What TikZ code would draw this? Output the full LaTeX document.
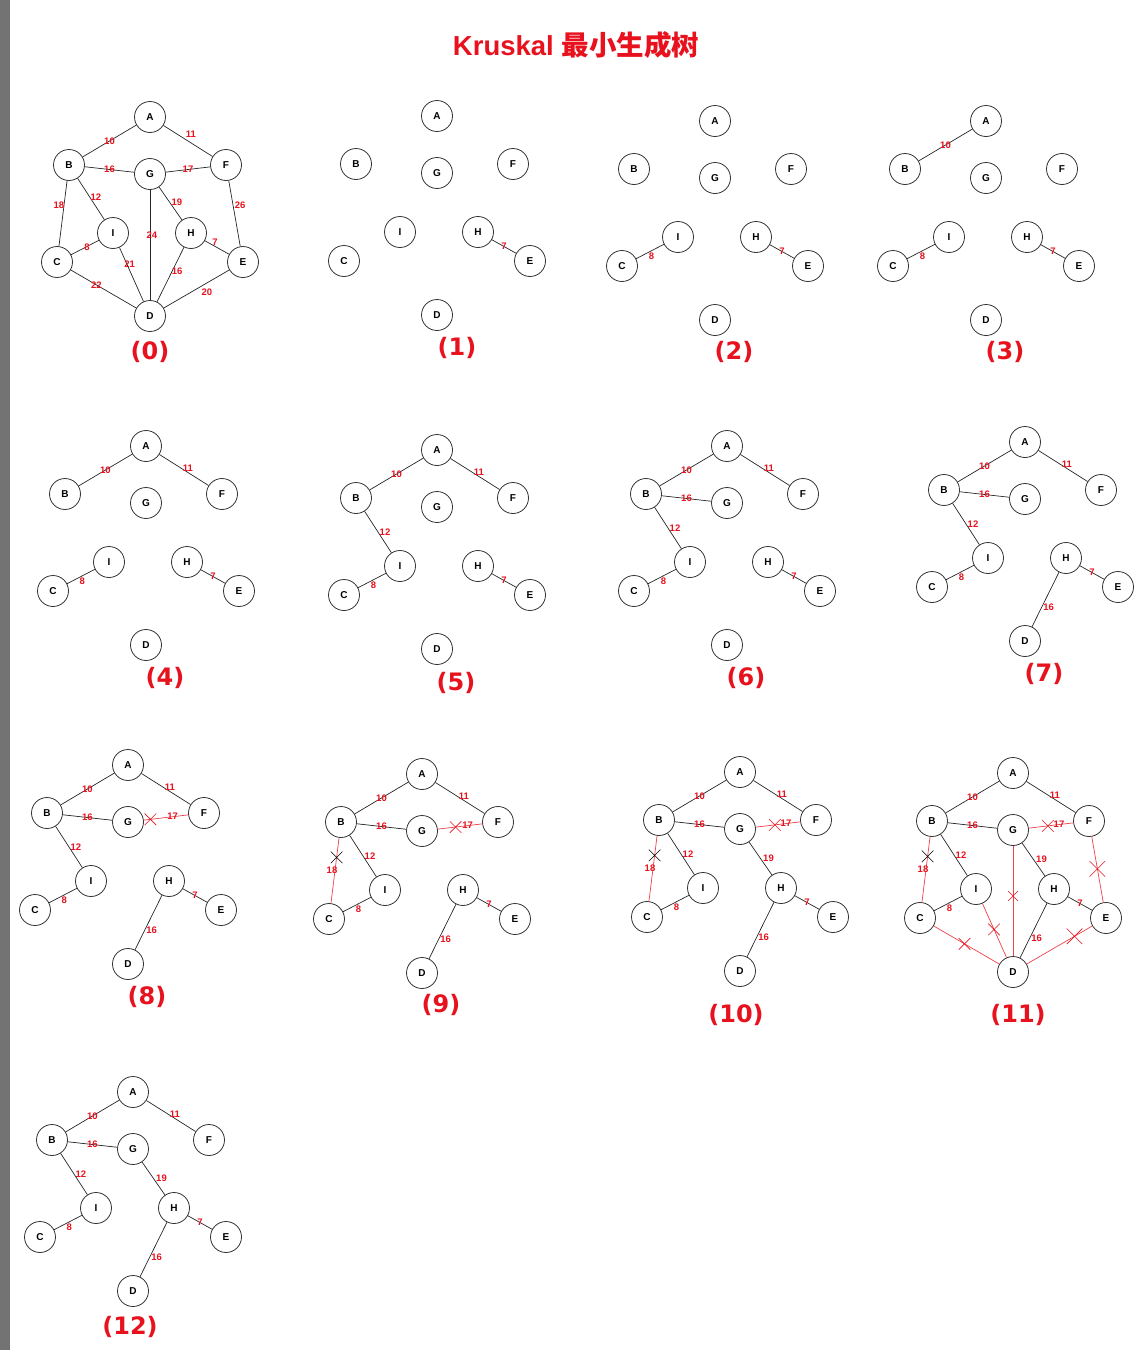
\documentclass[tikz,border=0pt]{standalone}
\usepackage{fontspec}
\setmainfont{Liberation Sans}
\newfontfamily\cjk{Noto Sans CJK SC}
\newfontfamily\chiffres{DejaVu Sans}
\usetikzlibrary{shapes.misc}

\definecolor{rouge}{RGB}{232,18,30}
\definecolor{barre}{RGB}{115,115,115}

\tikzset{
  sommet/.style={circle, draw=black!80, line width=0.8pt, minimum size=31pt, inner sep=0pt, fill=white,
    font=\fontsize{10}{10}\selectfont\bfseries},
  arete/.style={draw=black!85, line width=0.7pt},
  rejet/.style={draw=rouge!80, line width=0.7pt},
  poids/.style={text=rouge, font=\fontsize{9.5}{9.5}\selectfont\bfseries, inner sep=1pt},
  croix/.style={cross out, draw=rouge, line width=0.6pt, minimum size=11pt, inner sep=0pt},
  croixnoire/.style={croix, draw=black},
  numero/.style={text=rouge, font=\fontsize{24}{24}\selectfont\chiffres\bfseries},
  titre/.style={text=rouge, font=\fontsize{27.5}{27.5}\selectfont\bfseries},
}

% les 9 sommets d'une etape : #1 numero, (#2,#3) position de A
\newcommand{\sommets}[3]{%
  \node[sommet] (A#1) at (#2,#3) {A};
  \node[sommet] (B#1) at (#2-81,#3+48) {B};
  \node[sommet] (G#1) at (#2,#3+57) {G};
  \node[sommet] (F#1) at (#2+76,#3+48) {F};
  \node[sommet] (I#1) at (#2-37,#3+116) {I};
  \node[sommet] (H#1) at (#2+41,#3+116) {H};
  \node[sommet] (C#1) at (#2-93,#3+145) {C};
  \node[sommet] (E#1) at (#2+93,#3+145) {E};
  \node[sommet] (D#1) at (#2,#3+199) {D};
}
% arete avec son poids
\newcommand{\arete}[4][]{\draw[arete] (#2) -- node[poids,#1] {#4} (#3);}

\begin{document}
\begin{tikzpicture}[x=1pt,y=-1pt]
  \useasboundingbox (0,0) rectangle (1146,1350);
  \fill[barre] (0,0) rectangle (10,1350);

  \node[titre] (titre) at (576,45) {Kruskal {\cjk 最小生成树}};

  %etape 0 : le graphe
  \sommets{0}{150}{117}
  \arete{A0}{B0}{10}
  \arete[pos=0.56,yshift=9pt]{A0}{F0}{11}
  \arete{B0}{G0}{16}
  \arete{G0}{F0}{17}
  \arete[pos=0.38,xshift=-5pt]{B0}{C0}{18}
  \arete[pos=0.46,xshift=6pt]{B0}{I0}{12}
  \arete[pos=0.47,xshift=7pt]{G0}{H0}{19}
  \arete[pos=0.41,xshift=2pt]{G0}{D0}{24}
  \arete[pos=0.38,xshift=7pt]{F0}{E0}{26}
  \arete[xshift=2pt]{C0}{I0}{8}
  \arete[pos=0.3,xshift=3pt]{I0}{D0}{21}
  \arete[pos=0.42,yshift=4pt]{H0}{E0}{7}
  \arete[pos=0.44,xshift=5pt]{H0}{D0}{16}
  \arete[pos=0.39]{C0}{D0}{22}
  \arete[pos=0.34,yshift=-9pt]{E0}{D0}{20}
  \node[numero] (n0) at (150,352) {(0)};

  %etape 1
  \sommets{1}{437}{116}
  \arete{H1}{E1}{7}
  \node[numero] (n1) at (457,348) {(1)};

  %etape 2
  \sommets{2}{715}{121}
  \arete{H2}{E2}{7}
  \arete[pos=0.55,yshift=-5pt]{C2}{I2}{8}
  \node[numero] (n2) at (734,352) {(2)};

  %etape 3
  \sommets{3}{986}{121}
  \arete{H3}{E3}{7}
  \arete[pos=0.55,yshift=-5pt]{C3}{I3}{8}
  \arete{A3}{B3}{10}
  \node[numero] (n3) at (1005,352) {(3)};

  %etape 4
  \sommets{4}{146}{446}
  \arete{H4}{E4}{7}
  \arete[pos=0.55,yshift=-5pt]{C4}{I4}{8}
  \arete{A4}{B4}{10}
  \arete[pos=0.58,yshift=4pt]{A4}{F4}{11}
  \node[numero] (n4) at (165,678) {(4)};

  %etape 5
  \sommets{5}{437}{450}
  \arete{H5}{E5}{7}
  \arete[pos=0.55,yshift=-5pt]{C5}{I5}{8}
  \arete{A5}{B5}{10}
  \arete[pos=0.58,yshift=4pt]{A5}{F5}{11}
  \arete[xshift=7pt]{B5}{I5}{12}
  \node[numero] (n5) at (456,683) {(5)};

  %etape 6
  \sommets{6}{727}{446}
  \arete{H6}{E6}{7}
  \arete[pos=0.55,yshift=-5pt]{C6}{I6}{8}
  \arete{A6}{B6}{10}
  \arete[pos=0.58,yshift=4pt]{A6}{F6}{11}
  \arete[xshift=7pt]{B6}{I6}{12}
  \arete{B6}{G6}{16}
  \node[numero] (n6) at (746,678) {(6)};

  %etape 7
  \sommets{7}{1025}{442}
  \arete{H7}{E7}{7}
  \arete[pos=0.55,yshift=-5pt]{C7}{I7}{8}
  \arete{A7}{B7}{10}
  \arete[pos=0.58,yshift=4pt]{A7}{F7}{11}
  \arete[xshift=7pt]{B7}{I7}{12}
  \arete{B7}{G7}{16}
  \arete[pos=0.64,xshift=7pt]{H7}{D7}{16}
  \node[numero] (n7) at (1044,674) {(7)};

  %etape 8 : G-F refusee
  \sommets{8}{128}{765}
  \arete{H8}{E8}{7}
  \arete[pos=0.55,yshift=-5pt]{C8}{I8}{8}
  \arete{A8}{B8}{10}
  \arete[pos=0.58,yshift=4pt]{A8}{F8}{11}
  \arete[xshift=7pt]{B8}{I8}{12}
  \arete{B8}{G8}{16}
  \arete[pos=0.64,xshift=7pt]{H8}{D8}{16}
  \draw[rejet] (G8) -- node[croix,pos=0.15] {} node[poids,pos=0.65] {17} (F8);
  \node[numero] (n8) at (147,997) {(8)};

  %etape 9 : B-C refusee
  \sommets{9}{422}{774}
  \arete{H9}{E9}{7}
  \arete[pos=0.55,yshift=-5pt]{C9}{I9}{8}
  \arete{A9}{B9}{10}
  \arete[pos=0.58,yshift=4pt]{A9}{F9}{11}
  \arete[xshift=7pt]{B9}{I9}{12}
  \arete{B9}{G9}{16}
  \arete[pos=0.64,xshift=7pt]{H9}{D9}{16}
  \draw[rejet] (G9) -- node[croix,pos=0.4] {} node[poids,pos=0.67] {17} (F9);
  \draw[rejet] (B9) -- node[croixnoire,pos=0.3] {} node[poids,xshift=-3pt] {18} (C9);
  \node[numero] (n9) at (441,1005) {(9)};

  %etape 10
  \sommets{10}{740}{772}
  \arete{H10}{E10}{7}
  \arete[pos=0.55,yshift=-5pt]{C10}{I10}{8}
  \arete{A10}{B10}{10}
  \arete[pos=0.58,yshift=4pt]{A10}{F10}{11}
  \arete[xshift=7pt]{B10}{I10}{12}
  \arete{B10}{G10}{16}
  \arete[pos=0.64,xshift=7pt]{H10}{D10}{16}
  \draw[rejet] (G10) -- node[croix,pos=0.43] {} node[poids,pos=0.68] {17} (F10);
  \draw[rejet] (B10) -- node[croixnoire,pos=0.3] {} node[poids,xshift=-3pt] {18} (C10);
  \arete[xshift=8pt]{G10}{H10}{19}
  \node[numero] (n10) at (736,1015) {(10)};

  %etape 11 : les autres aretes refusees
  \sommets{11}{1013}{773}
  \arete{H11}{E11}{7}
  \arete[pos=0.55,yshift=-5pt]{C11}{I11}{8}
  \arete{A11}{B11}{10}
  \arete[pos=0.58,yshift=4pt]{A11}{F11}{11}
  \arete[xshift=7pt]{B11}{I11}{12}
  \arete{B11}{G11}{16}
  \arete[pos=0.64,xshift=7pt]{H11}{D11}{16}
  \draw[rejet] (G11) -- node[croix,pos=0.43] {} node[poids,pos=0.68] {17} (F11);
  \draw[rejet] (B11) -- node[croixnoire,pos=0.3] {} node[poids,xshift=-3pt] {18} (C11);
  \arete[xshift=8pt]{G11}{H11}{19}
  \draw[rejet] (G11) -- node[croix,pos=0.455,minimum size=9pt] {} (D11);
  \draw[rejet] (I11) -- node[croix,pos=0.48] {} (D11);
  \draw[rejet] (C11) -- node[croix,pos=0.47] {} (D11);
  \draw[rejet] (E11) -- node[croix,pos=0.27,minimum size=15pt] {} (D11);
  \draw[rejet] (F11) -- node[croix,pos=0.49,minimum size=15pt] {} (E11);
  \node[numero] (n11) at (1018,1015) {(11)};

  %etape 12 : l'arbre couvrant minimal
  \sommets{12}{133}{1092}
  \arete{H12}{E12}{7}
  \arete[pos=0.55,yshift=-5pt]{C12}{I12}{8}
  \arete{A12}{B12}{10}
  \arete[pos=0.58,yshift=4pt]{A12}{F12}{11}
  \arete[xshift=7pt]{B12}{I12}{12}
  \arete{B12}{G12}{16}
  \arete[pos=0.64,xshift=7pt]{H12}{D12}{16}
  \arete[xshift=8pt]{G12}{H12}{19}
  \node[numero] (n12) at (130,1327) {(12)};
\end{tikzpicture}
\end{document}
